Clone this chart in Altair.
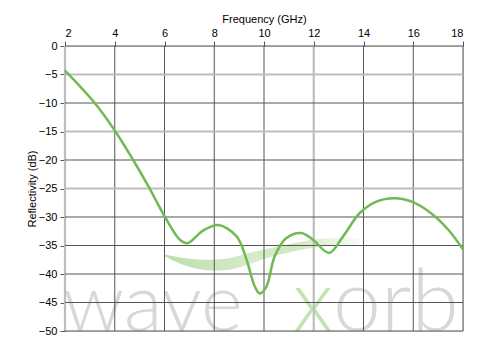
import altair as alt
import pandas as pd

# Reflectivity curve
freq = [2.0, 3.14, 3.98, 4.74, 5.35, 6.02, 6.62, 6.92, 7.55, 8.16, 8.9, 9.3, 9.63, 9.83,
        10.1, 10.43, 10.9, 11.5, 11.97, 12.62, 13.18, 13.85, 14.52, 15.25, 15.99, 16.79,
        17.46, 18.0]
refl = [-4.3, -9.7, -14.7, -20.0, -24.6, -30.0, -34.0, -34.6, -32.4, -31.4, -33.4, -37.5,
        -42.2, -43.4, -42.2, -36.9, -33.7, -32.8, -34.0, -36.3, -33.4, -29.3, -27.3, -26.7,
        -27.4, -29.6, -32.5, -35.7]

# Logo swoosh (decoration)
sw_x = [6.02, 6.62, 7.22, 7.82, 8.51, 9.23, 9.91, 10.63, 11.44, 12.24, 13.04, 13.85]
sw_top = [-36.6, -37.1, -37.4, -37.5, -37.3, -36.5, -35.8, -35.1, -34.4, -33.8, -33.7, -34.0]
sw_bot = [-36.9, -38.2, -39.0, -39.4, -39.3, -38.5, -37.5, -36.6, -35.8, -35.2, -35.0, -35.1]

x_ticks = [2, 4, 6, 8, 10, 12, 14, 16, 18]
y_ticks = [0, -5, -10, -15, -20, -25, -30, -35, -40, -45, -50]
logo_parts = ["wave", "x", "orb"]

FONT = "Liberation Sans"
xscale = alt.Scale(domain=[2, 18], nice=False, zero=False)
yscale = alt.Scale(domain=[-50, 0], nice=False)

xaxis = alt.Axis(orient="top", values=x_ticks, title="Frequency (GHz)", grid=False,
                 domain=False, tickColor="#555555", tickSize=5, labelFont=FONT,
                 labelFontSize=11, labelColor="#000", titleFont=FONT, titleFontSize=11,
                 titleFontWeight="normal", titleColor="#000", labelPadding=3, titlePadding=3)
yaxis = alt.Axis(values=y_ticks, title="Reflectivity (dB)", grid=False, domain=False,
                 tickColor="#555555", tickSize=5, labelFont=FONT, labelFontSize=11,
                 labelColor="#000", titleFont=FONT, titleFontSize=11,
                 titleFontWeight="normal", titleColor="#000", labelPadding=3, titlePadding=1)

df = pd.DataFrame({"f": freq, "r": refl})
sw = pd.DataFrame({"f": sw_x, "t": sw_top, "b": sw_bot})
vx = pd.DataFrame({"v": x_ticks})
hy = pd.DataFrame({"v": y_ticks})

swoosh = alt.Chart(sw).mark_area(
    interpolate="monotone",
    color=alt.Gradient(
        gradient="linear",
        stops=[alt.GradientStop(color="#bcdfa9", offset=0),
               alt.GradientStop(color="#d6ecca", offset=0.45),
               alt.GradientStop(color="#cfe8c0", offset=0.65),
               alt.GradientStop(color="#f7fbf4", offset=1)],
        x1=0, x2=1, y1=0, y2=0),
).encode(
    x=alt.X("f:Q", scale=xscale, axis=xaxis),
    y=alt.Y("t:Q", scale=yscale, axis=yaxis),
    y2="b:Q",
)

def logo(i, color, xpos, align, size):
    d = pd.DataFrame({"w": [logo_parts[i]]})
    return alt.Chart(d).mark_text(
        font="Lato", fontSize=size, fontWeight=300, color=color, align=align,
        baseline="alphabetic",
    ).encode(x=alt.value(xpos), y=alt.value(285), text="w:N")

wm = (logo(0, "#d8d8d8", -2, "left", 80) + logo(1, "#c3e4b0", 248, "center", 86)
      + logo(2, "#d8d8d8", 268, "left", 86))

vrules = alt.Chart(vx).mark_rule().encode(
    x=alt.X("v:Q", scale=xscale, axis=xaxis),
    color=alt.condition("datum.v == 2 || datum.v == 12", alt.value("#bdbdbd"), alt.value("#555555")),
    strokeWidth=alt.condition("datum.v == 2 || datum.v == 12", alt.value(2.2), alt.value(1)),
)
hrules = alt.Chart(hy).mark_rule().encode(
    y=alt.Y("v:Q", scale=yscale, axis=yaxis),
    color=alt.condition("datum.v == -5 || datum.v == -15 || datum.v == -25", alt.value("#bdbdbd"), alt.value("#555555")),
    strokeWidth=alt.condition("datum.v == -5 || datum.v == -15 || datum.v == -25", alt.value(2.2), alt.value(1)),
)

line = alt.Chart(df).mark_line(
    interpolate="catmull-rom", color="#6fba52", strokeWidth=2.5
).encode(
    x=alt.X("f:Q", scale=xscale, axis=xaxis),
    y=alt.Y("r:Q", scale=yscale, axis=yaxis),
)

chart = alt.layer(swoosh, wm, vrules, hrules, line).properties(
    width=398, height=285,
    autosize=alt.AutoSizeParams(type="none"),
    padding={"left": 65, "top": 46, "right": 37, "bottom": 19},
).configure_view(stroke=None).configure(background="white")

chart.save("out.html", embed_options={"renderer": "svg", "actions": False})
